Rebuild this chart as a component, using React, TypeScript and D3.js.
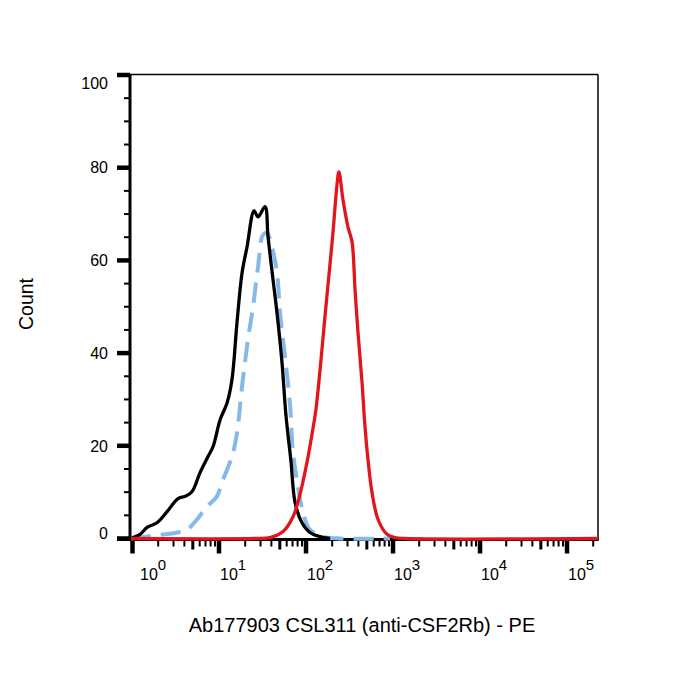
import React from "react";
import * as d3 from "d3";

// ---- Data ----
// Black histogram (x = fluorescence intensity, y = count %)
const blackX = [0.974, 1.03, 1.24, 1.49, 1.94, 2.53, 3.38, 4.07, 4.89, 6.05, 7.48, 8.53, 10.3, 12.4, 14.1, 16.1, 18.4, 21.0, 25.3, 28.1, 33.8, 36.6, 41.8, 46.4, 53.0, 58.9, 67.2, 74.8, 89.9, 111, 145, 189];
const blackY = [0, 0.2, 0.9, 2.4, 3.4, 5.8, 8.6, 9.1, 10.1, 14.2, 17.7, 19.8, 25.6, 29.3, 34.3, 46.6, 57.3, 62.9, 70.7, 69.4, 71.6, 65.1, 55.8, 48.7, 37.9, 26.5, 16.6, 7.8, 3.4, 1.3, 0.4, 0];

// Blue dashed histogram
const blueX = [0.974, 1.24, 1.70, 2.39, 3.38, 4.29, 5.58, 7.28, 9.48, 10.8, 14.1, 16.1, 18.4, 21.5, 24.6, 28.1, 32.0, 35.6, 40.6, 46.4, 50.3, 57.4, 65.5, 70.9, 80.9, 92.4, 111, 157, 246, 924];
const blueY = [0, 0.2, 0.6, 0.9, 1.3, 1.9, 4.1, 6.9, 9.1, 12.1, 17.7, 22.8, 32.8, 42.9, 50.0, 58.6, 65.5, 65.9, 62.9, 57.3, 48.7, 39.2, 28.9, 18.5, 11.2, 5.6, 1.9, 0.4, 0, 0];

// Red histogram (anti-CSF2Rb)
const redX = [0.974, 25.9, 38.6, 54.4, 70.9, 85.3, 103, 117, 130, 145, 165, 179, 204, 227, 239, 266, 304, 338, 366, 396, 441, 470, 509, 574, 673, 853, 1054, 1374, 227000];
const redY = [0, 0, 0.2, 1.5, 4.7, 9.5, 16.6, 22.4, 27.8, 36.4, 47.8, 54.7, 65.9, 76.3, 79.1, 73.1, 67.2, 64.0, 53.7, 44.4, 33.6, 25.6, 18.1, 9.9, 4.1, 0.9, 0.2, 0, 0];

const yMajorTicks = [0, 20, 40, 60, 80, 100];
const yMinorStep = 5;
const xDecades = [0, 1, 2, 3, 4, 5];
const xMultiples = [1, 2, 3, 4, 5, 6, 7, 8, 9];
const xDomain = [0.974, 227000];
const yDomain = [0, 100];

const xTitle = "Ab177903 CSL311 (anti-CSF2Rb) - PE";
const yTitle = "Count";

const FONT = "'Liberation Sans', Arial, Helvetica, sans-serif";

export default function App() {
  const left = 131, right = 598, top = 75, bottom = 538.5;
  const x = d3.scaleLog().domain(xDomain).range([left, right]);
  const y = d3.scaleLinear().domain(yDomain).range([bottom, top]);

  const line = d3
    .line<[number, number]>()
    .x((d) => x(d[0]))
    .y((d) => Math.min(y(d[1]), bottom))
    .curve(d3.curveCatmullRom.alpha(0.5));

  const zip = (a: number[], b: number[]) => a.map((v, i) => [v, b[i]] as [number, number]);

  const xTicks: { v: number; kind: number }[] = [];
  xDecades.forEach((e) => {
    xMultiples.forEach((k) => {
      const v = k * Math.pow(10, e);
      if (v >= 1 && v <= xDomain[1]) xTicks.push({ v, kind: k === 1 ? 2 : k === 5 ? 1 : 0 });
    });
  });

  const yMinor = d3.range(yDomain[0], yDomain[1] + 1, yMinorStep).filter((v) => !yMajorTicks.includes(v));
  const axisX = 130;
  const axisY = 539.5;

  return (
    <svg
      width={700}
      height={700}
      style={{ position: "absolute", left: 0, top: 0, background: "#fff", display: "block" }}
    >
      <rect x={0} y={0} width={700} height={700} fill="#fff" />
      {/* frame top & right */}
      <line x1={axisX} y1={top - 0.5} x2={right} y2={top - 0.5} stroke="#000" strokeWidth={1.5} />
      <line x1={right} y1={top - 0.5} x2={right} y2={axisY} stroke="#000" strokeWidth={1.5} />

      {/* Y axis */}
      <line x1={axisX} y1={top - 1} x2={axisX} y2={axisY + 1.5} stroke="#000" strokeWidth={3} />
      {yMinor.map((v) => (
        <line key={"ym" + v} x1={124} x2={axisX} y1={y(v)} y2={y(v)} stroke="#000" strokeWidth={2} />
      ))}
      {yMajorTicks.map((v) => (
        <line key={"yM" + v} x1={117} x2={axisX} y1={y(v)} y2={y(v)} stroke="#000" strokeWidth={4.5} />
      ))}
      {yMajorTicks.map((v) => (
        <text
          key={"yl" + v}
          x={108}
          y={Math.min(Math.max(y(v), 83), 533)}
          dy="0.36em"
          textAnchor="end"
          fontFamily={FONT}
          fontSize={16}
          fill="#000"
        >
          {v}
        </text>
      ))}

      {/* X axis */}
      <line x1={117} y1={axisY} x2={right + 0.75} y2={axisY} stroke="#000" strokeWidth={3} />
      {xTicks.map((t) => {
        const len = t.kind === 2 ? 14 : t.kind === 1 ? 10 : 7;
        const w = t.kind === 2 ? 4.5 : t.kind === 1 ? 3 : 2;
        const xx = Math.max(x(t.v), axisX + 2.5);
        return (
          <line key={"xt" + t.v} x1={xx} x2={xx} y1={axisY} y2={axisY + len} stroke="#000" strokeWidth={w} />
        );
      })}
      {xDecades.map((e) => {
        const xs = Math.max(x(Math.pow(10, e)) + 1, 140);
        return (
          <text key={"xl" + e} x={xs} y={580} fontFamily={FONT} fontSize={16} fill="#000">
            10
            <tspan dy={-10} fontSize={15}>
              {e}
            </tspan>
          </text>
        );
      })}

      {/* Curves */}
      <path
        d={line(zip(blueX, blueY)) || ""}
        fill="none"
        stroke="#86b9e8"
        strokeWidth={4}
        strokeDasharray="20 10"
        strokeLinejoin="round"
      />
      <path d={line(zip(blackX, blackY)) || ""} fill="none" stroke="#000" strokeWidth={3.3} strokeLinejoin="round" />
      <path d={line(zip(redX, redY)) || ""} fill="none" stroke="#e0161c" strokeWidth={3.3} strokeLinejoin="round" />

      {/* Titles */}
      <text x={362} y={632} textAnchor="middle" fontFamily={FONT} fontSize={20} fill="#000">
        {xTitle}
      </text>
      <text
        transform="translate(33,304) rotate(-90)"
        textAnchor="middle"
        fontFamily={FONT}
        fontSize={19.5}
        fill="#000"
      >
        {yTitle}
      </text>
    </svg>
  );
}
